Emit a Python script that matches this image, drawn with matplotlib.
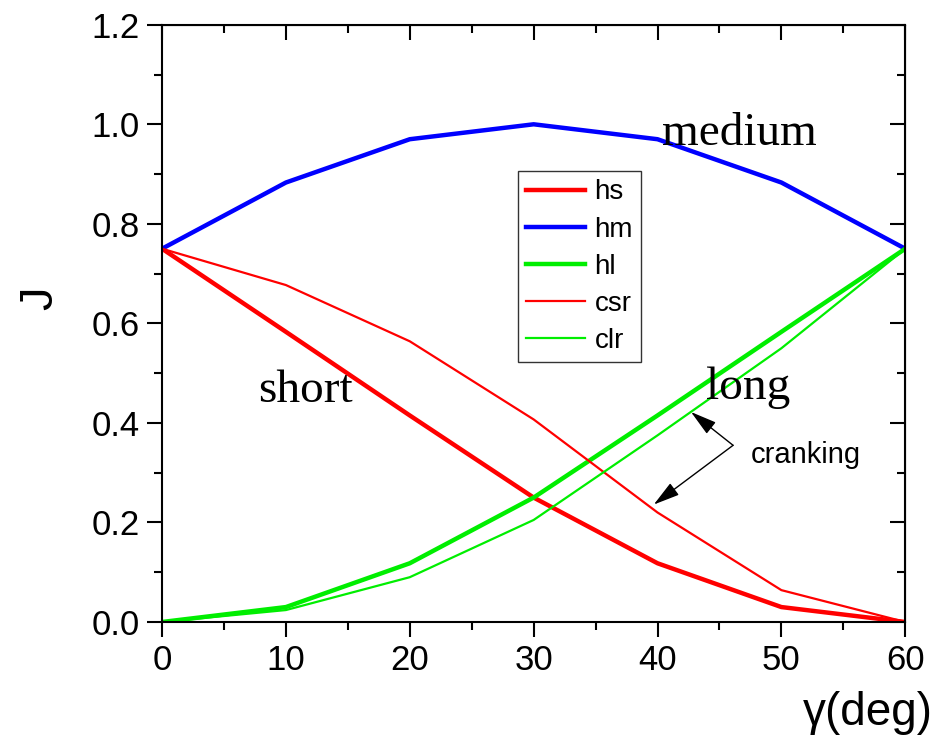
import matplotlib
matplotlib.use("Agg")
import matplotlib.pyplot as plt
from matplotlib.ticker import MultipleLocator, FormatStrFormatter

gamma = [0, 10, 20, 30, 40, 50, 60]
hs  = [0.75, 0.583, 0.415, 0.25, 0.118, 0.030, 0.0]
hm  = [0.75, 0.883, 0.970, 1.0, 0.970, 0.883, 0.75]
hl  = [0.0, 0.030, 0.118, 0.25, 0.415, 0.583, 0.75]
csr = [0.75, 0.677, 0.564, 0.407, 0.220, 0.064, 0.0]
clr = [0.0, 0.024, 0.090, 0.205, 0.375, 0.550, 0.75]

plt.rcParams['font.family'] = ['Liberation Sans', 'DejaVu Sans']

fig = plt.figure(figsize=(9.42, 7.41), dpi=100)
ax = fig.add_axes([0.172, 0.1606, 0.789, 0.806])

ax.plot(gamma, hs, color='#ff0000', lw=3.2, label='hs')
ax.plot(gamma, hm, color='#0000ff', lw=3.2, label='hm')
ax.plot(gamma, hl, color='#00ee00', lw=3.2, label='hl')
ax.plot(gamma, csr, color='#ff0000', lw=1.6, label='csr')
ax.plot(gamma, clr, color='#00ee00', lw=1.6, label='clr')

ax.set_xlim(0, 60)
ax.set_ylim(0, 1.2)
ax.xaxis.set_major_locator(MultipleLocator(10))
ax.xaxis.set_minor_locator(MultipleLocator(5))
ax.yaxis.set_major_locator(MultipleLocator(0.2))
ax.yaxis.set_minor_locator(MultipleLocator(0.1))
ax.yaxis.set_major_formatter(FormatStrFormatter('%.1f'))

# outward ticks on left/bottom, inward on top/right
ax.tick_params(which='both', direction='out', width=1.5, labelsize=25, pad=5)
ax.tick_params(which='major', length=11)
ax.tick_params(which='minor', length=6)
for spine in ax.spines.values():
    spine.set_linewidth(1.5)
ax2 = ax.secondary_xaxis('top')
ax2.xaxis.set_major_locator(MultipleLocator(10))
ax2.xaxis.set_minor_locator(MultipleLocator(5))
ax2.tick_params(which='both', direction='in', width=1.5, labeltop=False)
ax2.tick_params(which='major', length=11)
ax2.tick_params(which='minor', length=6)
ay2 = ax.secondary_yaxis('right')
ay2.yaxis.set_major_locator(MultipleLocator(0.2))
ay2.yaxis.set_minor_locator(MultipleLocator(0.1))
ay2.tick_params(which='both', direction='in', width=1.5, labelright=False)
ay2.tick_params(which='major', length=11)
ay2.tick_params(which='minor', length=6)

fig.text(0.043, 0.597, 'J', fontsize=34, ha='center', va='center', rotation=90)
fig.text(0.921, 0.038, 'γ(deg)', fontsize=33, ha='center', va='center')

serif = ['Liberation Serif', 'DejaVu Serif']
ax.text(46.6, 0.98, 'medium', fontsize=34, family=serif, ha='center', va='center')
ax.text(11.6, 0.465, 'short', fontsize=34, family=serif, ha='center', va='center')
ax.text(47.3, 0.47, 'long', fontsize=34, family=serif, ha='center', va='center')
ax.text(52.0, 0.335, 'cranking', fontsize=21, ha='center', va='center')

arrow = dict(arrowstyle='-|>,head_length=0.9,head_width=0.25', color='black',
             lw=1.0, mutation_scale=18, shrinkA=0, shrinkB=0)
ax.annotate('', xy=(42.7, 0.422), xytext=(46.1, 0.355), arrowprops=arrow)
ax.annotate('', xy=(39.7, 0.236), xytext=(46.1, 0.355), arrowprops=arrow)

leg = ax.legend(loc='upper left', bbox_to_anchor=(0.479, 0.755), fontsize=20,
                frameon=True, fancybox=False, handlelength=2.1, handletextpad=0.35,
                labelspacing=0.4, borderpad=0.3, borderaxespad=0)
leg.get_frame().set_edgecolor('black')
leg.get_frame().set_linewidth(1.0)

fig.savefig('out.png', dpi=100)
